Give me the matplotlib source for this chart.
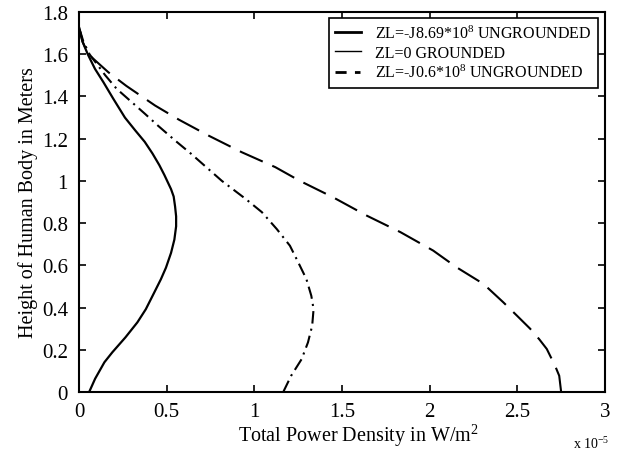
import matplotlib
matplotlib.use("Agg")
import matplotlib.pyplot as plt
from matplotlib.lines import Line2D

# Height of the body (m) and total power density (x 1e-5 W/m^2)
h_ungr_869 = [0.0, 0.063, 0.141, 0.188, 0.259, 0.33, 0.392, 0.471, 0.534,
              0.589, 0.659, 0.722, 0.785, 0.832, 0.879, 0.926, 0.961, 1.028,
              1.075, 1.13, 1.185, 1.24, 1.30, 1.39, 1.468, 1.531, 1.6, 1.66,
              1.728]
p_ungr_869 = [0.058, 0.092, 0.145, 0.19, 0.265, 0.333, 0.381, 0.429, 0.467,
              0.496, 0.525, 0.544, 0.554, 0.554, 0.548, 0.54, 0.525, 0.487,
              0.458, 0.419, 0.375, 0.32, 0.262, 0.195, 0.139, 0.091, 0.05,
              0.02, 0.0]

h_grounded = [0.0, 0.077, 0.156, 0.235, 0.314, 0.393, 0.456, 0.535, 0.615,
              0.693, 0.772, 0.852, 0.915, 1.0, 1.128, 1.19, 1.262, 1.318,
              1.376, 1.436, 1.5, 1.6, 1.66, 1.728]
p_grounded = [1.165, 1.21, 1.27, 1.306, 1.33, 1.338, 1.325, 1.297, 1.25,
              1.203, 1.128, 1.043, 0.95, 0.815, 0.64, 0.55, 0.45, 0.376,
              0.297, 0.215, 0.15, 0.06, 0.025, 0.0]

h_ungr_06 = [0.0, 0.077, 0.125, 0.204, 0.25, 0.30, 0.36, 0.425, 0.512,
             0.59, 0.67, 0.757, 0.836, 0.922, 1.0, 1.065, 1.136, 1.215,
             1.29, 1.357, 1.45, 1.515, 1.6, 1.66, 1.728]
p_ungr_06 = [2.75, 2.739, 2.715, 2.668, 2.625, 2.573, 2.50, 2.42, 2.307,
             2.155, 2.02, 1.834, 1.64, 1.45, 1.26, 1.12, 0.928, 0.738,
             0.57, 0.434, 0.27, 0.167, 0.053, 0.02, 0.0]

labels = [
    r"ZL=-J8.69*10$^{8}$ UNGROUNDED",
    "ZL=0 GROUNDED",
    r"ZL=-J0.6*10$^{8}$ UNGROUNDED",
]

plt.rcParams["font.family"] = ["Liberation Serif", "DejaVu Serif"]
plt.rcParams["mathtext.fontset"] = "custom"
plt.rcParams["mathtext.rm"] = "Liberation Serif"
plt.rcParams["mathtext.it"] = "Liberation Serif"

fig = plt.figure(figsize=(6.21, 4.52), dpi=100)
ax = fig.add_axes([0.1272, 0.1305, 0.847, 0.8407])

ax.plot(p_ungr_869, h_ungr_869, color="black", lw=1.6)
ax.plot(p_grounded, h_grounded, color="black", lw=1.5,
        dashes=(6, 2.5, 1, 2.5))
ax.plot(p_ungr_06, h_ungr_06, color="black", lw=1.5, dashes=(12, 5))

ax.set_xlim(0, 3)
ax.set_ylim(0, 1.8)
ax.set_xticks([0, 0.5, 1, 1.5, 2, 2.5, 3])
ax.set_xticklabels(["0", "0.5", "1", "1.5", "2", "2.5", "3"])
ax.set_yticks([0, 0.2, 0.4, 0.6, 0.8, 1, 1.2, 1.4, 1.6, 1.8])
ax.set_yticklabels(["0", "0.2", "0.4", "0.6", "0.8", "1", "1.2", "1.4",
                    "1.6", "1.8"])
ax.tick_params(direction="in", length=5, width=1.2, labelsize=15,
               top=True, right=True)
ax.tick_params(axis="x", pad=7)
ax.tick_params(axis="y", pad=8)
for s in ax.spines.values():
    s.set_linewidth(1.5)

ax.set_xlabel(r"Total Power Density in W/m$^{2}$", fontsize=14.5)
ax.xaxis.label.set_va("center")
ax.xaxis.set_label_coords(0.532, -0.113)
ax.set_ylabel("Height of Human Body in Meters", fontsize=14.5, labelpad=3)

fig.text(0.981, 0.018, r"x 10$^{-5}$", ha="right", va="center", fontsize=10)

handles = [
    Line2D([], [], color="black", lw=2.0),
    Line2D([], [], color="black", lw=1.0),
    Line2D([], [], color="black", lw=2.0, dashes=(4, 3, 2, 3)),
]
leg = ax.legend(handles, labels, loc="upper right", fontsize=11.5,
                frameon=True, fancybox=False, framealpha=1,
                edgecolor="black", borderpad=0.4, labelspacing=0.2,
                handlelength=1.6, handletextpad=0.9, borderaxespad=0,
                bbox_to_anchor=(0.987, 0.984))
leg.get_frame().set_linewidth(1.2)

fig.savefig("out.png", dpi=100)
